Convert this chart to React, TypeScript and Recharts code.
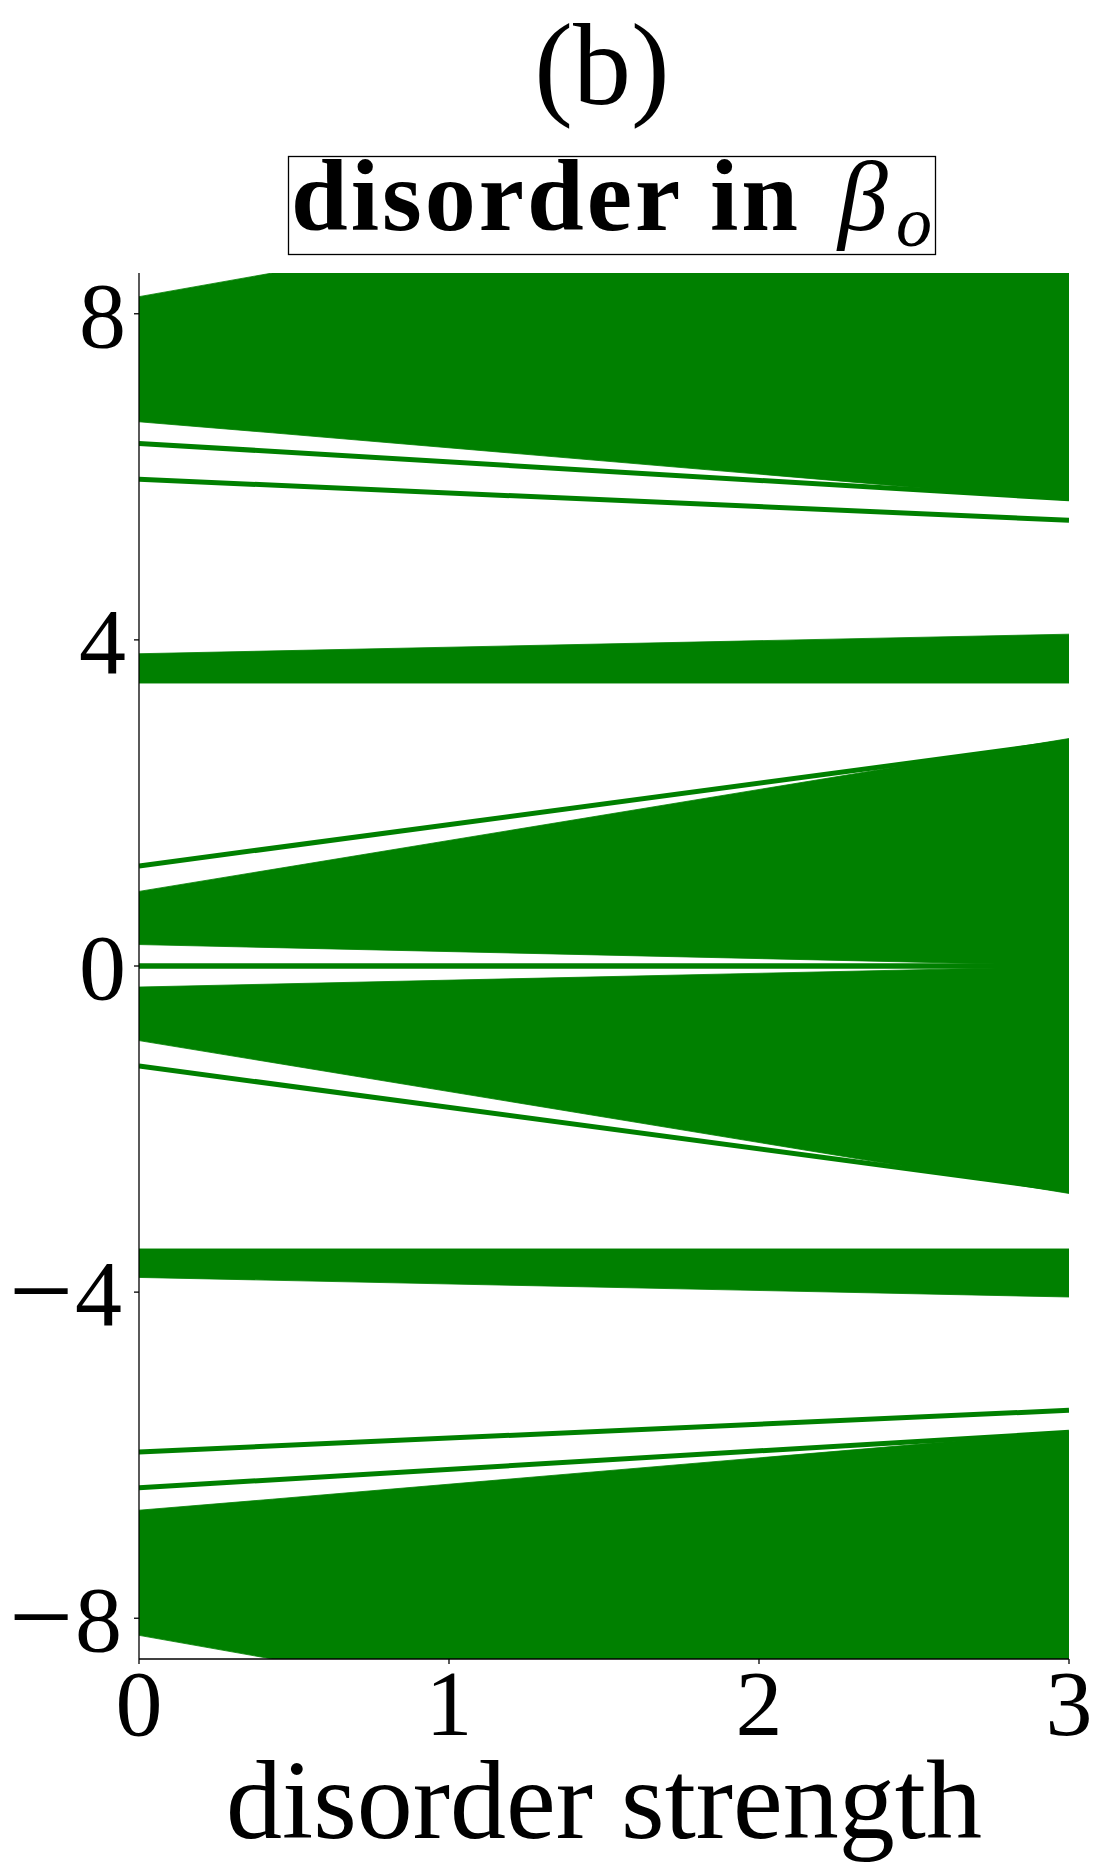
import React from 'react';
import { ComposedChart, Area, Line, XAxis, YAxis, Label } from 'recharts';

const GREEN = '#008000';
const FONT = '"Liberation Serif", "Times New Roman", serif';

// axis ticks
const xTicks = [0, 1, 2, 3];
const yTicks = [-8, -4, 0, 4, 8];

// ---- filled bands: x positions, lower edge, upper edge
const topBandX = [0, 0.43, 3];
const topBandLow = [6.675, 6.54, 5.71];
const topBandHigh = [8.21, 8.5, 8.5];

const band4X = [0, 3];
const band4Low = [3.47, 3.47];
const band4High = [3.83, 4.07];

const centerUpX = [0, 3];
const centerUpLow = [0.263, 0.005];
const centerUpHigh = [0.915, 2.79];

const centerDownX = [0, 3];
const centerDownLow = [-0.915, -2.79];
const centerDownHigh = [-0.258, -0.005];

const bandM4X = [0, 3];
const bandM4Low = [-3.82, -4.06];
const bandM4High = [-3.47, -3.47];

const bottomBandX = [0, 0.43, 3];
const bottomBandLow = [-8.21, -8.5, -8.5];
const bottomBandHigh = [-6.675, -6.54, -5.71];

// ---- isolated lines: values at x = 0 and x = 3
const lineX = [0, 3];
const lineTop1 = [6.41, 5.73];
const lineTop2 = [5.97, 5.467];
const lineUp = [1.227, 2.75];
const lineZero = [0, 0];
const lineDown = [-1.227, -2.75];
const lineBot1 = [-5.96, -5.45];
const lineBot2 = [-6.4, -5.72];

const toBand = (xs: number[], lo: number[], hi: number[]) =>
  xs.map((x, i) => ({ x, range: [lo[i], hi[i]] }));
const toLine = (ys: number[]) => lineX.map((x, i) => ({ x, y: ys[i] }));

const bands = [
  toBand(topBandX, topBandLow, topBandHigh),
  toBand(band4X, band4Low, band4High),
  toBand(centerUpX, centerUpLow, centerUpHigh),
  toBand(centerDownX, centerDownLow, centerDownHigh),
  toBand(bandM4X, bandM4Low, bandM4High),
  toBand(bottomBandX, bottomBandLow, bottomBandHigh),
];

const lines = [
  { d: toLine(lineTop1), w: 5 },
  { d: toLine(lineTop2), w: 5 },
  { d: toLine(lineUp), w: 5 },
  { d: toLine(lineZero), w: 5.4 },
  { d: toLine(lineDown), w: 5 },
  { d: toLine(lineBot1), w: 5 },
  { d: toLine(lineBot2), w: 5 },
];

const fmt = (v: number) => (v < 0 ? '\u2212' + Math.abs(v) : String(v));

const tickStyle = { fontSize: 94, fontFamily: FONT, fill: '#000' };

const YTick = (props: any) => {
  const { x, y, payload } = props;
  const v = payload.value as number;
  const neg = v < 0;
  const base = y + 33;
  return (
    <text
      x={neg ? x - 4 : x}
      y={base}
      textAnchor="end"
      fontFamily={FONT}
      fontSize={94}
      fill="#000"
    >
      {neg ? (
        <>
          <tspan fontSize={114} dy={4}>{'\u2212'}</tspan>
          <tspan dx={2} dy={-4}>{String(Math.abs(v))}</tspan>
        </>
      ) : (
        String(v)
      )}
    </text>
  );
};

export default function App() {
  return (
    <div style={{ position: 'absolute', left: 0, top: 0, width: 1101, height: 1869, background: '#fff' }}>
      <ComposedChart
        width={1101}
        height={1869}
        margin={{ top: 273, right: 32, bottom: 0, left: 0 }}
      >
        <XAxis
          xAxisId={0}
          type="number"
          dataKey="x"
          domain={[0, 3]}
          allowDataOverflow
          ticks={xTicks}
          interval={0}
          tickFormatter={fmt}
          tickSize={5}
          tickMargin={4}
          height={210}
          axisLine={{ stroke: '#000', strokeWidth: 1.3 }}
          tickLine={{ stroke: '#000', strokeWidth: 1.3 }}
          tick={tickStyle}
        >
          <Label
            value="disorder strength"
            position="insideBottom"
            offset={31}
            style={{ fontSize: 112, fontFamily: FONT, fill: '#000' }}
          />
        </XAxis>
        <XAxis
          xAxisId="top"
          orientation="top"
          type="number"
          dataKey="x"
          domain={[0, 3]}
          allowDataOverflow
          height={0}
          tick={false}
          tickLine={false}
          axisLine={{ stroke: '#000', strokeWidth: 1.3 }}
        />
        <YAxis
          yAxisId={0}
          type="number"
          domain={[-8.5, 8.5]}
          allowDataOverflow
          ticks={yTicks}
          interval={0}
          tickSize={5}
          tickMargin={8}
          width={139}
          axisLine={{ stroke: '#000', strokeWidth: 1.3 }}
          tickLine={{ stroke: '#000', strokeWidth: 1.3 }}
          tick={(p: any) => <YTick {...p} />}
        />
        <YAxis
          yAxisId="right"
          orientation="right"
          type="number"
          domain={[-8.5, 8.5]}
          allowDataOverflow
          width={0}
          tick={false}
          tickLine={false}
          axisLine={{ stroke: '#000', strokeWidth: 1.3 }}
        />
        {bands.map((b, i) => (
          <Area
            key={'b' + i}
            data={b}
            dataKey="range"
            type="linear"
            xAxisId={0}
            yAxisId={0}
            fill={GREEN}
            fillOpacity={1}
            stroke={GREEN}
            strokeWidth={0.8}
            dot={false}
            activeDot={false}
            isAnimationActive={false}
          />
        ))}
        {lines.map((l, i) => (
          <Line
            key={'l' + i}
            data={l.d}
            dataKey="y"
            type="linear"
            xAxisId={0}
            yAxisId={0}
            stroke={GREEN}
            strokeWidth={l.w}
            dot={false}
            activeDot={false}
            isAnimationActive={false}
          />
        ))}
      </ComposedChart>
      <svg
        width={1101}
        height={272}
        style={{ position: 'absolute', left: 0, top: 0, pointerEvents: 'none' }}
      >
        <text x={602} y={104} textAnchor="middle" fontFamily={FONT} fontSize={116} fill="#000">
          (b)
        </text>
        <rect x={288.5} y={156.5} width={647} height={98} fill="#fff" stroke="#000" strokeWidth={1.3} />
        <text x={291} y={230} fontFamily={FONT} fontWeight="bold" fontSize={102} letterSpacing={3} fill="#000">
          disorder in
        </text>
        <text x={838} y={230} fontFamily={FONT} fontStyle="italic" fontSize={100} fill="#000">
          β
        </text>
        <text x={896} y={246} fontFamily={FONT} fontStyle="italic" fontSize={72} fill="#000">
          o
        </text>
      </svg>
    </div>
  );
}
